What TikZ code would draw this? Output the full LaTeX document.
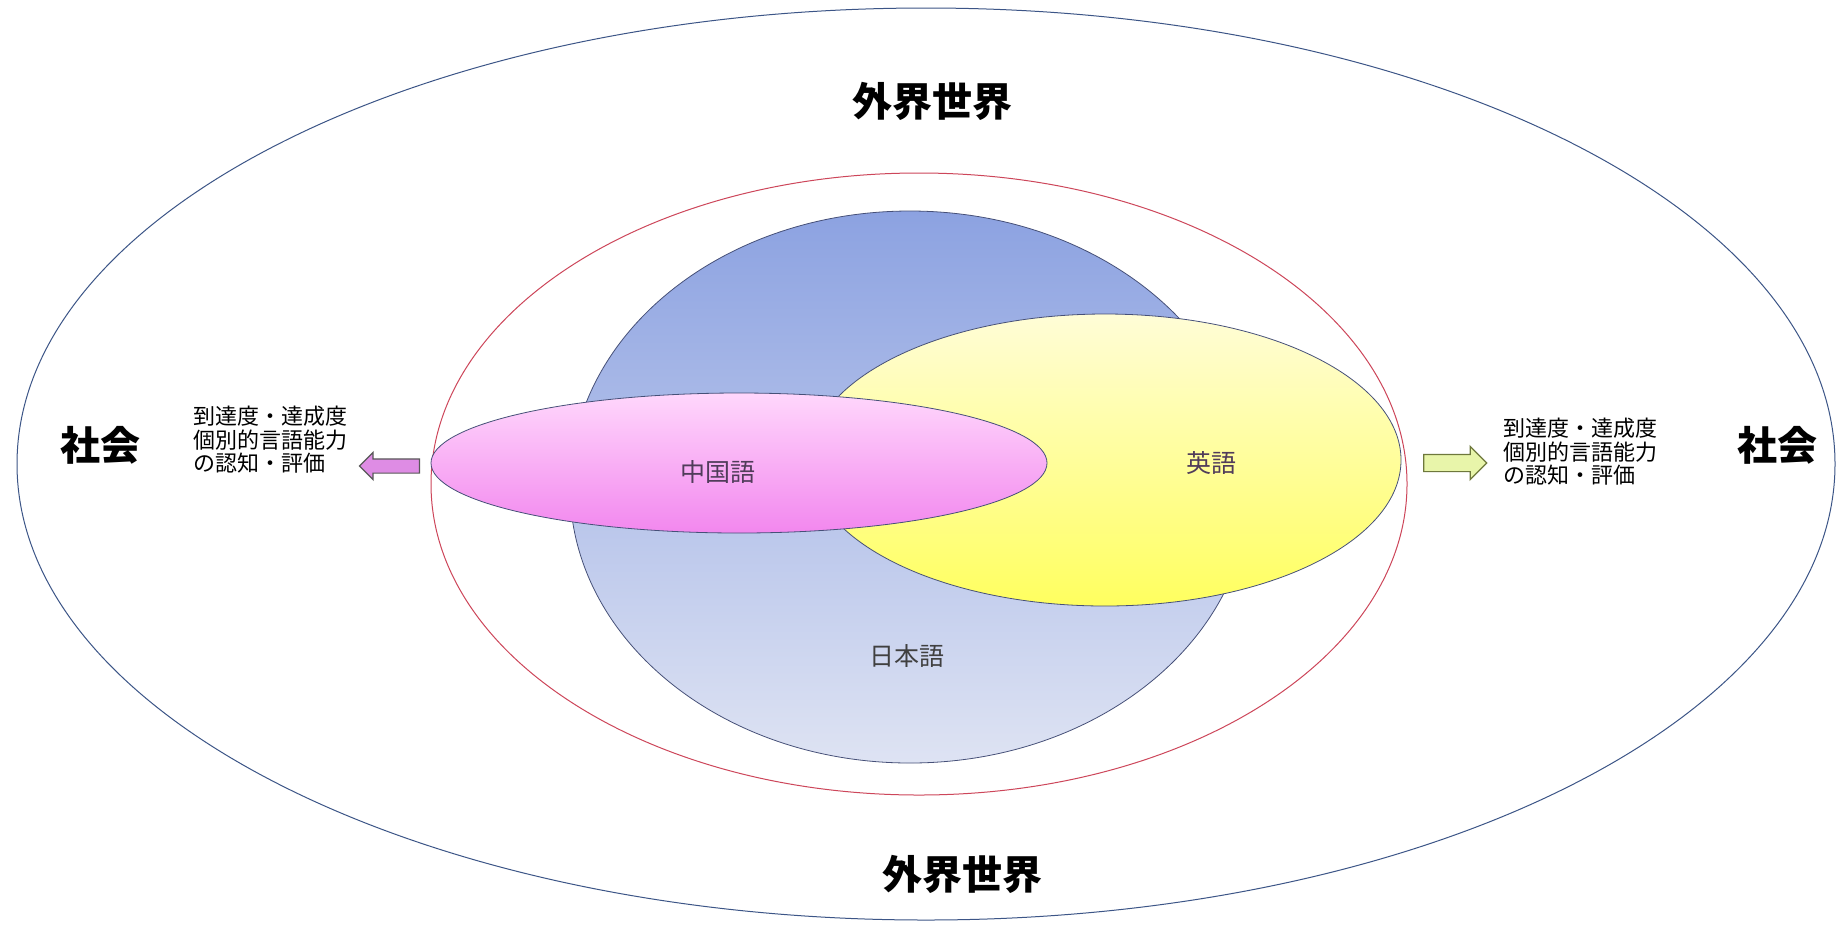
\documentclass[tikz,border=0pt]{standalone}
\usepackage{fontspec}
\setmainfont{Noto Sans CJK JP}
\usetikzlibrary{shapes.geometric,shapes.arrows}
\definecolor{outerline}{RGB}{60,85,135}
\definecolor{redline}{RGB}{205,70,90}
\definecolor{bluetop}{RGB}{140,162,225}
\definecolor{bluebot}{RGB}{222,227,243}
\definecolor{blueline}{RGB}{70,80,120}
\definecolor{pinktop}{RGB}{255,215,252}
\definecolor{pinkbot}{RGB}{242,135,238}
\definecolor{yeltop}{RGB}{255,253,215}
\definecolor{yelbot}{RGB}{255,255,95}
\definecolor{greenfill}{RGB}{232,245,170}
\definecolor{greenline}{RGB}{110,120,60}
\definecolor{purplefill}{RGB}{222,140,228}
\definecolor{labeltext}{RGB}{80,60,90}
\tikzset{
  x=0.5pt, y=-0.5pt,
  oval/.style={ellipse, inner sep=0pt},
  bigtext/.style={font=\fontsize{20}{22}\selectfont\bfseries, text=black},
  smalltext/.style={font=\fontsize{11}{11.8}\selectfont, align=left, text=black, inner sep=0pt},
  langtext/.style={font=\fontsize{12.5}{14}\selectfont, text=labeltext},
  blockarrow/.style={single arrow, line width=0.6pt}
}
\begin{document}
\begin{tikzpicture}
\useasboundingbox (0,0) rectangle (1839,928);
\fill[white] (0,0) rectangle (1839,928);
% outer ellipse
\node[oval, draw=outerline, line width=0.5pt, minimum width=909pt, minimum height=456pt] (outer) at (926,464) {};
% red ellipse
\node[oval, draw=redline, line width=0.5pt, minimum width=488pt, minimum height=311pt] (inner) at (919,484) {};
% Japanese (blue)
\node[oval, draw=blueline, line width=0.4pt, top color=bluetop, bottom color=bluebot, minimum width=340pt, minimum height=276pt] (jp) at (910,487) {};
% English (yellow)
\node[oval, draw=blueline, line width=0.4pt, top color=yeltop, bottom color=yelbot, minimum width=296pt, minimum height=146pt] (en) at (1105,460) {};
% Chinese (pink)
\node[oval, draw=blueline, line width=0.4pt, top color=pinktop, bottom color=pinkbot, minimum width=308pt, minimum height=70pt] (cn) at (739,463) {};
% language labels
\node[langtext] (cnl) at (718,472) {中国語};
\node[langtext] (enl) at (1211,463) {英語};
\node[langtext, text=black!75] (jpl) at (907,656) {日本語};
% big labels
\node[bigtext] (wt) at (932,101) {外界世界};
\node[bigtext] (wb) at (962,874) {外界世界};
\node[bigtext] (sl) at (100,445) {社会};
\node[bigtext] (sr) at (1777,445) {社会};
% small texts
\node[smalltext] (tl) at (270,440) {到達度・達成度\\個別的言語能力\\の認知・評価};
\node[smalltext] (tr) at (1580,452) {到達度・達成度\\個別的言語能力\\の認知・評価};
% arrows
\node[blockarrow, shape border rotate=180, draw=black!65, fill=purplefill, inner xsep=0pt, inner ysep=3.25pt, single arrow head extend=3.25pt, minimum height=30pt] (al) at (393,466) {};
\node[blockarrow, draw=greenline, fill=greenfill, inner xsep=0pt, inner ysep=4pt, single arrow head extend=4pt, minimum height=31.5pt] (ar) at (1451,463) {};
\end{tikzpicture}
\end{document}
